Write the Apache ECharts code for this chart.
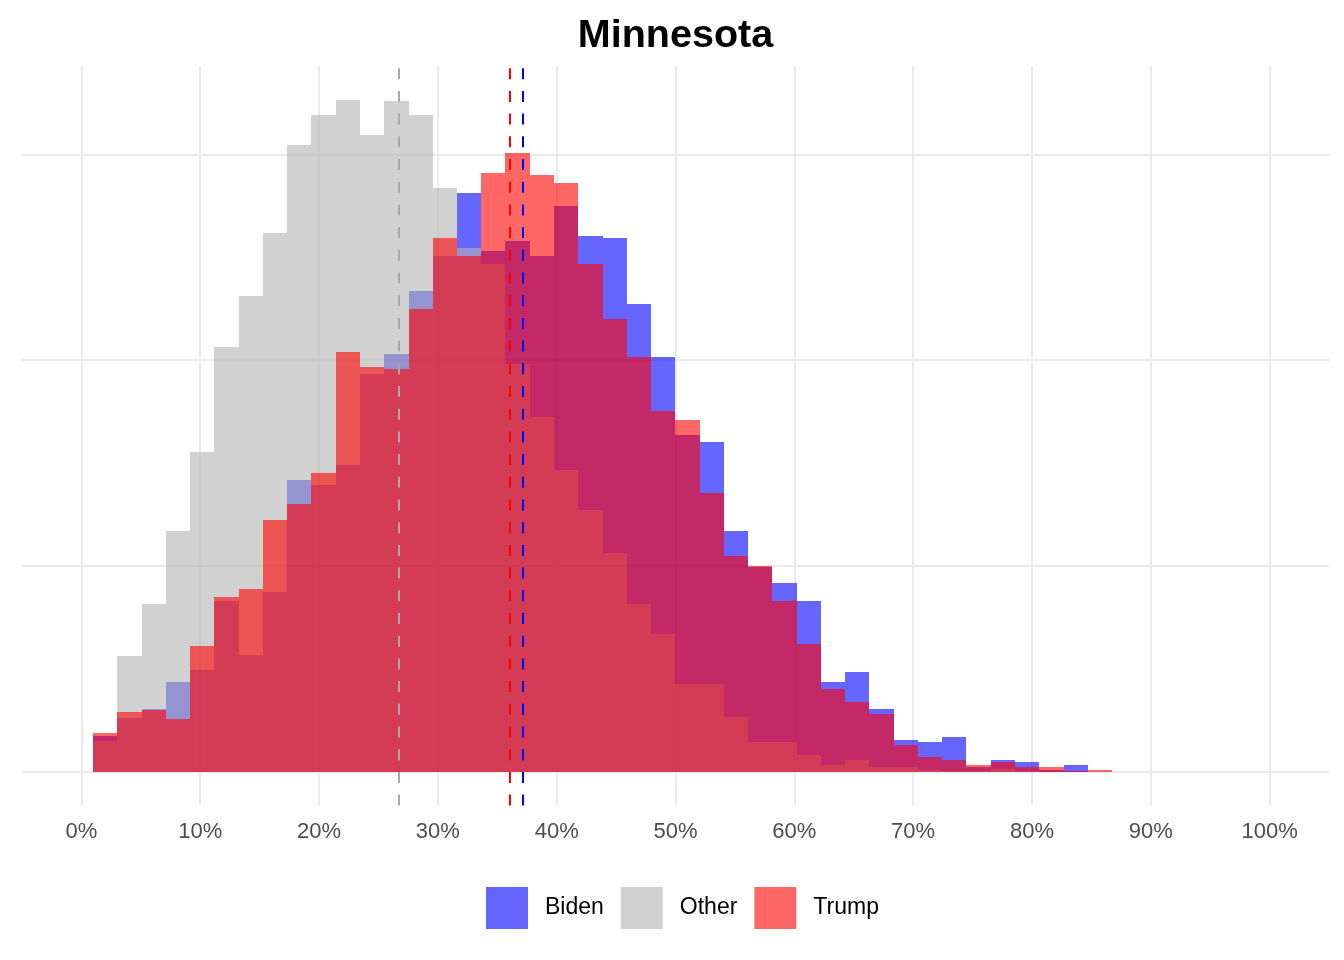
<!DOCTYPE html>
<html>
<head>
<meta charset="utf-8">
<script src="https://cdn.jsdelivr.net/npm/echarts@6/dist/echarts.min.js"></script>
<style>
html,body{margin:0;padding:0;background:#fff;}
#chart{width:1344px;height:960px;}
</style>
</head>
<body>
<div id="chart"></div>
<script>
// Bin left/right edges (% vote share)
const binEdges = [0.98, 3.02, 5.06, 7.11, 9.15, 11.19, 13.23, 15.27, 17.32, 19.36,
  21.40, 23.44, 25.48, 27.53, 29.57, 31.61, 33.65, 35.69, 37.74, 39.78,
  41.82, 43.86, 45.90, 47.95, 49.99, 52.03, 54.07, 56.11, 58.16, 60.20,
  62.24, 64.28, 66.32, 68.37, 70.41, 72.45, 74.49, 76.53, 78.58, 80.62,
  82.66, 84.70, 86.74];

const bidenCounts = [17.6, 26.3, 30.4, 43.5, 49.7, 82.9, 57.0, 87.6, 141.8, 139.2,
  149.0, 193.4, 203.0, 233.6, 250.7, 281.4, 253.1, 258.0, 250.7, 274.9,
  260.4, 259.3, 227.4, 201.6, 163.8, 160.3, 117.2, 99.4, 92.0, 83.1,
  43.7, 48.5, 30.6, 15.5, 14.6, 17.0, 2.4, 5.8, 4.9, 1.0,
  3.4, 0];

const otherCounts = [15.2, 56.1, 81.4, 116.9, 155.2, 206.4, 231.3, 261.9, 304.7, 319.3,
  326.6, 309.6, 325.7, 319.3, 283.7, 254.6, 246.9, 198.3, 172.4, 146.6,
  127.4, 106.4, 81.7, 67.2, 42.9, 42.9, 26.9, 14.7, 14.7, 8.4,
  3.5, 5.8, 2.4, 2.4, 1.0, 0.3, 0.3, 1.5, 0.5, 0,
  0, 0];

const trumpCounts = [18.8, 28.9, 30.0, 25.5, 61.0, 85.2, 89.1, 122.3, 130.4, 145.2,
  204.1, 196.8, 195.7, 224.8, 259.5, 250.7, 291.0, 300.9, 290.1, 286.3,
  246.7, 220.1, 201.6, 175.2, 171.1, 135.6, 105.0, 99.9, 83.2, 62.1,
  40.4, 34.0, 28.2, 13.1, 7.3, 5.8, 3.4, 4.9, 2.4, 2.4,
  0.5, 1.0];

const meanOther = 26.75;
const meanTrump = 36.08;
const meanBiden = 37.17;

const xTickValues = [0, 10, 20, 30, 40, 50, 60, 70, 80, 90, 100];
const yGridValues = [0, 100, 200, 300];

const seriesNames = ['Biden', 'Other', 'Trump'];

// ---- build ----
function toBins(counts) {
  return counts.map((c, i) => [binEdges[i], binEdges[i + 1], c]);
}
const yMaxData = Math.max(...bidenCounts, ...otherCounts, ...trumpCounts);
const yMin = -0.05 * yMaxData;
const yMax = 1.05 * yMaxData;

function renderBar(params, api) {
  const x0 = api.value(0), x1 = api.value(1), h = api.value(2);
  if (!(h > 0)) return null;
  const pTop = api.coord([x0, h]);
  const pBot = api.coord([x1, 0]);
  const left = Math.round(pTop[0]);
  const right = Math.round(pBot[0]);
  const top = Math.round(pTop[1]);
  const bottom = Math.round(pBot[1]);
  return {
    type: 'rect',
    shape: { x: left, y: top, width: right - left, height: Math.max(bottom - top, 1) },
    style: { fill: api.visual('color') }
  };
}

const FONT = '"Liberation Sans", Arial, Helvetica, sans-serif';
const colors = {
  Biden: 'rgba(0,0,255,0.6)',
  Other: 'rgba(179,179,179,0.6)',
  Trump: 'rgba(255,0,0,0.6)'
};
const countsByName = { Biden: bidenCounts, Other: otherCounts, Trump: trumpCounts };

const barSeries = seriesNames.map((name, k) => ({
  name: name,
  type: 'custom',
  renderItem: renderBar,
  encode: { x: [0, 1], y: 2 },
  data: toBins(countsByName[name]),
  itemStyle: { color: colors[name] },
  z: 2 + k,
  silent: true
}));

const option = {
  animation: false,
  backgroundColor: '#ffffff',
  title: {
    text: 'Minnesota',
    left: 670.5,
    textAlign: 'center',
    top: 11,
    textStyle: { fontFamily: FONT, fontSize: 39.5, fontWeight: 'bold', color: '#000000' }
  },
  legend: {
    data: seriesNames,
    left: 486,
    top: 887,
    padding: 0,
    icon: 'rect',
    itemWidth: 42,
    itemHeight: 42,
    itemGap: 17,
    textStyle: { fontFamily: FONT, fontSize: 23, color: '#000000', padding: [4, 0, 0, 12] },
    selectedMode: false
  },
  grid: { left: 22, right: 15, top: 66, bottom: 154.4, containLabel: false },
  xAxis: {
    type: 'value',
    min: -5,
    max: 105,
    interval: 5,
    axisLine: { show: false },
    axisTick: { show: false },
    splitLine: { show: false },
    axisLabel: {
      margin: 15,
      fontFamily: FONT,
      fontSize: 22,
      color: '#4D4D4D',
      showMinLabel: true,
      showMaxLabel: true,
      formatter: function (v) {
        const r = Math.round(v);
        return xTickValues.indexOf(r) >= 0 && Math.abs(v - r) < 1e-6 ? r + '%' : '';
      }
    }
  },
  yAxis: {
    type: 'value',
    min: yMin,
    max: yMax,
    show: false
  },
  series: [
    {
      name: 'grid',
      type: 'line',
      data: [],
      z: 0,
      silent: true,
      markLine: {
        z: 0,
        silent: true,
        symbol: ['none', 'none'],
        animation: false,
        label: { show: false },
        lineStyle: { color: '#EBEBEB', width: 2, type: 'solid' },
        data: xTickValues.map(v => ({ xAxis: v })).concat(yGridValues.map(v => ({ yAxis: v })))
      }
    }
  ].concat(barSeries).concat([
    {
      name: 'means',
      type: 'line',
      data: [],
      z: 10,
      silent: true,
      markLine: {
        z: 10,
        silent: true,
        symbol: ['none', 'none'],
        animation: false,
        label: { show: false },
        data: [
          { xAxis: meanOther, lineStyle: { color: '#A9A9A9', width: 2, type: [11, 11.7] } },
          { xAxis: meanTrump, lineStyle: { color: '#FF0000', width: 2, type: [11, 11.7] } },
          { xAxis: meanBiden, lineStyle: { color: '#0000FF', width: 2, type: [11, 11.7] } }
        ]
      }
    }
  ])
};

const chart = echarts.init(document.getElementById('chart'), null, { renderer: 'canvas' });
chart.setOption(option);
</script>
</body>
</html>
